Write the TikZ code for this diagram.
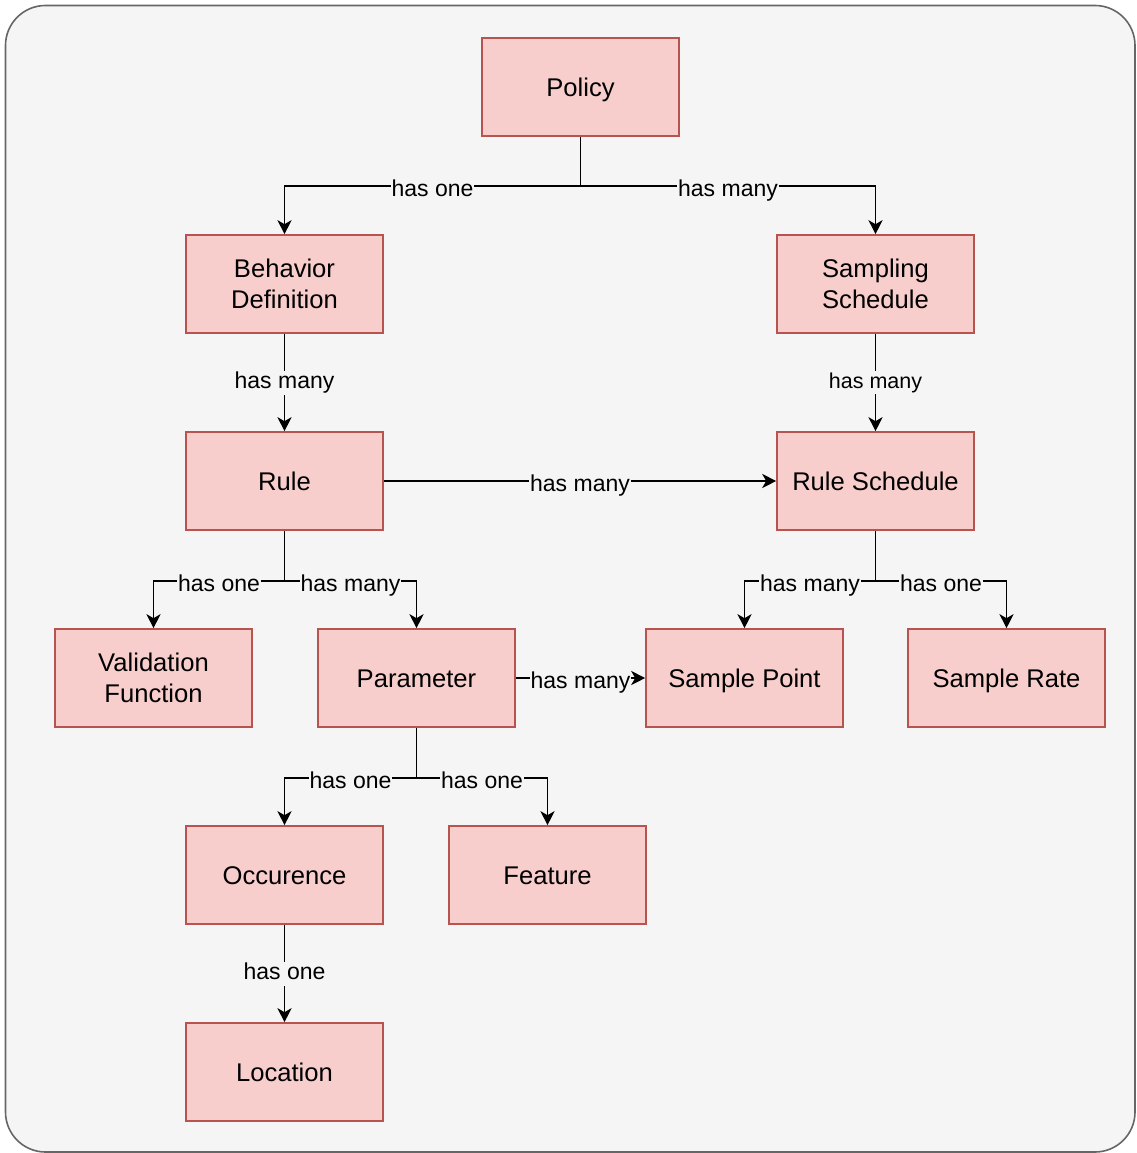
\documentclass[tikz,border=0pt]{standalone}
\usepackage{fontspec}
\setmainfont{Liberation Sans}
\usetikzlibrary{arrows.meta}
\definecolor{bgfill}{HTML}{F5F5F5}
\definecolor{bgline}{HTML}{666666}
\definecolor{boxfill}{HTML}{F8CECC}
\definecolor{boxline}{HTML}{B85450}
\tikzset{
  entity/.style={draw=boxline, fill=boxfill, line width=1.6pt, minimum width=197pt, minimum height=98pt, inner sep=0pt, align=center, font=\fontsize{25.6}{30.7}\selectfont},
  oneline/.style={text height=18.4pt, text depth=0pt},
  arr/.style={line width=1.9pt, -{Stealth[length=14pt,width=14pt,inset=4pt]}},
  lbl/.style={fill=bgfill, inner sep=1pt, text height=17pt, text depth=5pt, font=\fontsize{23}{27}\selectfont},
  lblh/.style={fill=bgfill, inner sep=1pt, text height=22pt, text depth=1pt, font=\fontsize{23}{27}\selectfont},
  lblsm/.style={fill=bgfill, inner sep=1pt, text height=16pt, text depth=4.5pt, font=\fontsize{21.5}{26}\selectfont}
}
\begin{document}
\begin{tikzpicture}[x=1pt,y=-1pt]
\useasboundingbox (0,0) rectangle (1136,1153);
\draw[draw=bgline, fill=bgfill, line width=1.6pt, rounded corners=40pt] (5.5,5.5) rectangle (1135,1152);

\node[entity,oneline] (policy) at (580.5,87) {Policy};
\node[entity] (beh) at (284.5,284) {Behavior\\Definition};
\node[entity] (samp) at (875.5,284) {Sampling\\Schedule};
\node[entity,oneline] (rule) at (284.5,481) {Rule};
\node[entity,oneline] (rsched) at (875.5,481) {Rule Schedule};
\node[entity] (valid) at (153.5,678) {Validation\\Function};
\node[entity,oneline] (param) at (416.5,678) {Parameter};
\node[entity,oneline] (spoint) at (744.5,678) {Sample Point};
\node[entity,oneline] (srate) at (1006.5,678) {Sample Rate};
\node[entity,oneline] (occ) at (284.5,875) {Occurence};
\node[entity,oneline] (feat) at (547.5,875) {Feature};
\node[entity,oneline] (loc) at (284.5,1072) {Location};

% Policy
\draw[arr] (policy.south) -- ++(0,49) -| node[lblh,pos=0.25]{has one} (beh.north);
\draw[arr] (policy.south) -- ++(0,49) -| node[lblh,pos=0.25]{has many} (samp.north);
% verticals
\draw[arr] (beh.south) -- node[lbl]{has many} (rule.north);
\draw[arr] (samp.south) -- node[lblsm]{has many} (rsched.north);
\draw[arr] (rule.east) -- node[lblh]{has many} (rsched.west);
% Rule children
\draw[arr] (rule.south) -- ++(0,50) -| node[lblh,pos=0.25]{has one} (valid.north);
\draw[arr] (rule.south) -- ++(0,50) -| node[lblh,pos=0.25]{has many} (param.north);
% Rule schedule children
\draw[arr] (rsched.south) -- ++(0,50) -| node[lblh,pos=0.25]{has many} (spoint.north);
\draw[arr] (rsched.south) -- ++(0,50) -| node[lblh,pos=0.25]{has one} (srate.north);
% Parameter
\draw[arr] (param.east) -- node[lblh]{has many} (spoint.west);
\draw[arr] (param.south) -- ++(0,50) -| node[lblh,pos=0.25]{has one} (occ.north);
\draw[arr] (param.south) -- ++(0,50) -| node[lblh,pos=0.25]{has one} (feat.north);
% Occurence
\draw[arr] (occ.south) -- node[lbl]{has one} (loc.north);
\end{tikzpicture}
\end{document}
